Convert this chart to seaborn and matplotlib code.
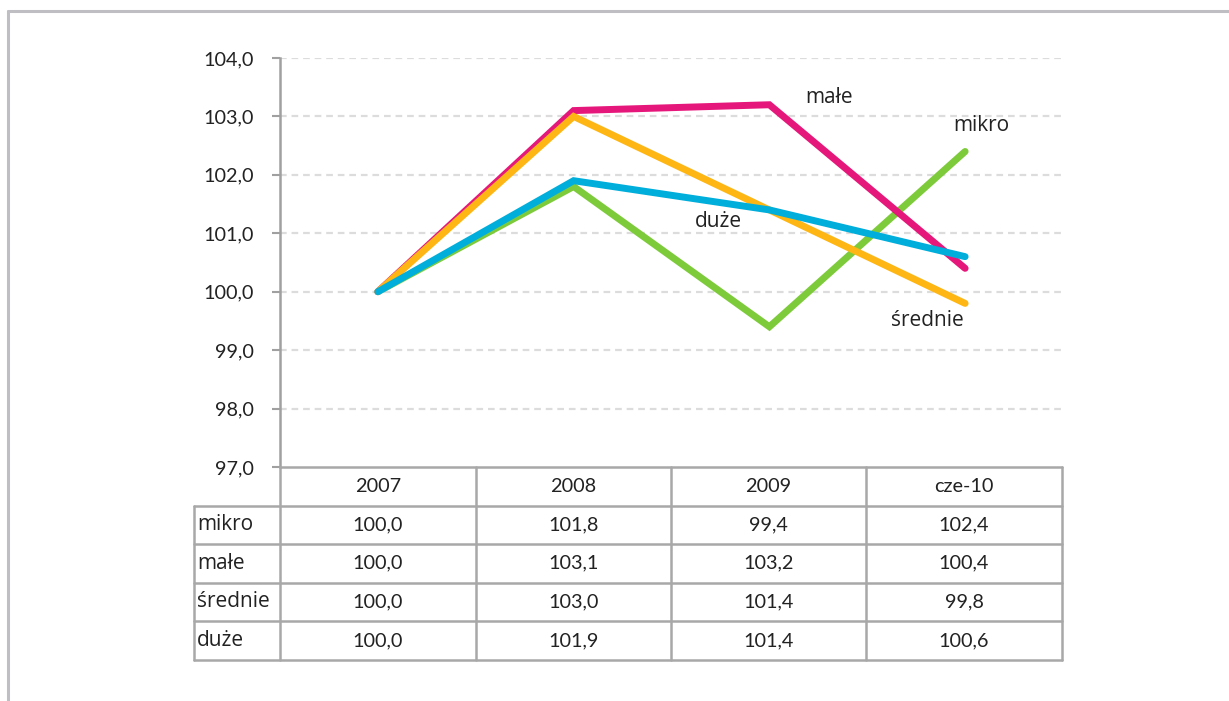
import matplotlib
matplotlib.use("Agg")
import matplotlib.pyplot as plt
import seaborn as sns
import pandas as pd
from matplotlib.lines import Line2D
from matplotlib.ticker import FuncFormatter

# ---- data ----
categories = ["2007", "2008", "2009", "cze-10"]
series_names = ["mikro", "małe", "średnie", "duże"]
mikro = [100.0, 101.8, 99.4, 102.4]
male = [100.0, 103.1, 103.2, 100.4]
srednie = [100.0, 103.0, 101.4, 99.8]
duze = [100.0, 101.9, 101.4, 100.6]
y_ticks = [97, 98, 99, 100, 101, 102, 103, 104]

values = {"mikro": mikro, "małe": male, "średnie": srednie, "duże": duze}
colors = {"mikro": "#7DCB3A", "małe": "#E6177A", "średnie": "#FDB614", "duże": "#00AEDB"}

rows = []
for name in series_names:
    for i, c in enumerate(categories):
        rows.append({"kat": c, "x": i, "seria": name, "val": values[name][i]})
df = pd.DataFrame(rows)

sns.set_theme(style="white")
plt.rcParams["font.family"] = ["Lato", "DejaVu Sans"]

W, H = 1229, 701
fig = plt.figure(figsize=(W / 100, H / 100), dpi=100)

def px_axes(x0, y0, x1, y1, **kw):
    return fig.add_axes([x0 / W, 1 - y1 / H, (x1 - x0) / W, (y1 - y0) / H], **kw)

# outer frame (top and left)
frame = px_axes(0, 0, W, H)
frame.set_xlim(0, W)
frame.set_ylim(H, 0)
frame.axis("off")
frame.add_line(Line2D([8, W], [11, 11], color="#BEBEC3", lw=2.2))
frame.add_line(Line2D([8, 8], [11, H], color="#BEBEC3", lw=2.2))

FS = 14.3
FS_LBL = 15

# main plot
ax = px_axes(280, 58, 1063, 467)
sns.lineplot(data=df, x="x", y="val", hue="seria", hue_order=series_names,
             palette=colors, lw=5.0, ax=ax, legend=False, sort=False)
for ln in ax.lines:
    ln.set_solid_capstyle("round")
    ln.set_solid_joinstyle("miter")
    ln.set_clip_on(False)

ax.set_xlim(-0.5, 3.5)
ax.set_ylim(97, 104)
ax.set_yticks(y_ticks)
ax.yaxis.set_major_formatter(FuncFormatter(lambda v, p: f"{v:.1f}".replace(".", ",")))
ax.set_xticks([])
ax.set_xlabel("")
ax.set_ylabel("")
for yv in y_ticks[1:]:
    ax.axhline(yv, color="#DCDCDC", lw=1.6, linestyle=(0, (3, 2.2)), zorder=0)
for s in ["top", "right", "bottom"]:
    ax.spines[s].set_visible(False)
ax.spines["left"].set_color("#A0A0A0")
ax.spines["left"].set_linewidth(1.8)
ax.tick_params(axis="y", left=True, length=6, width=1.5, color="#A0A0A0",
               pad=13, labelsize=FS, labelcolor="#222222")

# series labels
label_pos = {"małe": (2.185, 103.33), "mikro": (2.94, 102.85), "duże": (1.62, 101.21), "średnie": (2.62, 99.51)}
for name, (lx, ly) in label_pos.items():
    ax.text(lx, ly, name, fontsize=FS_LBL, color="#222222", family=["Open Sans", "DejaVu Sans"],
            ha="left", va="center")

# data table
tab = px_axes(194, 467, 1063, 661)
tab.set_xlim(194, 1063)
tab.set_ylim(661, 467)
tab.axis("off")
col_edges = [280, 476, 671, 866, 1062]
row_edges = [467, 505.5, 544, 582.5, 621, 660]
gc = "#A8A8A8"
lw = 1.8
tab.add_line(Line2D([280, 1062], [row_edges[0]] * 2, color=gc, lw=lw, clip_on=False))
for yv in row_edges[1:]:
    tab.add_line(Line2D([194, 1062], [yv, yv], color=gc, lw=lw, clip_on=False))
for xv in col_edges:
    tab.add_line(Line2D([xv, xv], [row_edges[0], row_edges[-1]], color=gc, lw=lw, clip_on=False))
tab.add_line(Line2D([194, 194], [row_edges[1], row_edges[-1]], color=gc, lw=lw, clip_on=False))

for j, c in enumerate(categories):
    xc = (col_edges[j] + col_edges[j + 1]) / 2
    tab.text(xc, (row_edges[0] + row_edges[1]) / 2, c, ha="center", va="center",
             fontsize=FS, color="#222222")
for i, name in enumerate(series_names):
    yc = (row_edges[i + 1] + row_edges[i + 2]) / 2
    tab.text(197, yc, name, ha="left", va="center", fontsize=FS_LBL, color="#222222",
             family=["Open Sans", "DejaVu Sans"])
    for j in range(len(categories)):
        xc = (col_edges[j] + col_edges[j + 1]) / 2
        tab.text(xc, yc, f"{values[name][j]:.1f}".replace(".", ","), ha="center", va="center",
                 fontsize=FS, color="#222222")

fig.savefig("out.png", dpi=100)
